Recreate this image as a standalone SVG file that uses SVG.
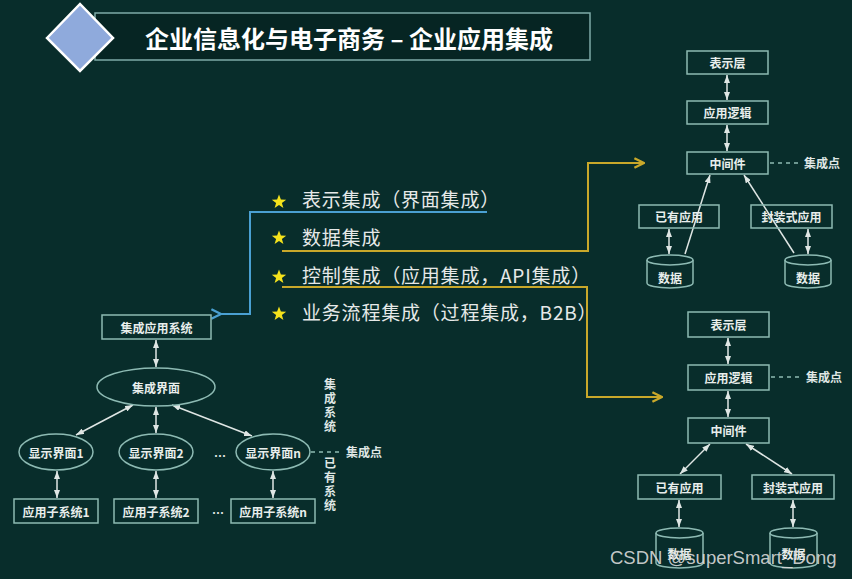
<svg xmlns="http://www.w3.org/2000/svg" width="852" height="579" viewBox="0 0 852 579">
<defs>
<marker id="ah" viewBox="0 0 8 6" refX="8" refY="3" markerWidth="8" markerHeight="6" markerUnits="userSpaceOnUse" orient="auto-start-reverse">
<path d="M0,0 L8,3 L0,6 z" fill="#dfe6e4"/>
</marker>
<marker id="oa" viewBox="0 0 10 10" refX="9" refY="5" markerWidth="12" markerHeight="12" markerUnits="userSpaceOnUse" orient="auto">
<path d="M1,1 L9,5 L1,9" fill="none" stroke="#c9a82a" stroke-width="2"/>
</marker>
<marker id="ba" viewBox="0 0 10 10" refX="1" refY="5" markerWidth="12" markerHeight="12" markerUnits="userSpaceOnUse" orient="auto">
<path d="M9,1 L1,5 L9,9" fill="none" stroke="#4aa0d2" stroke-width="2"/>
</marker>
<path id="star" d="M0,-7.5 L1.9,-2.4 L7.2,-2.3 L2.9,0.9 L4.4,6.1 L0,3 L-4.4,6.1 L-2.9,0.9 L-7.2,-2.3 L-1.9,-2.4 z" fill="#f4e21c"/>
</defs>
<style>
.bx{fill:none;stroke:#8dbab3;stroke-width:1.5}
.cy{fill:#082d2b;stroke:#8dbab3;stroke-width:1.5}
.t{font-family:"Noto Sans CJK SC","Noto Sans",sans-serif;font-weight:bold;font-size:12px;fill:#e8eeec;text-anchor:middle;dominant-baseline:central}
.bl{font-family:"Noto Sans CJK SC","Noto Sans",sans-serif;font-size:19px;letter-spacing:0.8px;fill:#e6e9e8}
.ar{stroke:#dfe6e4;stroke-width:1.5;fill:none}
.dash{stroke:#8dbab3;stroke-width:1.3;stroke-dasharray:4,4;fill:none}
.lb{font-family:"Noto Sans CJK SC","Noto Sans",sans-serif;font-weight:bold;font-size:12px;fill:#dfe6e4}
.vt{font-family:"Noto Sans CJK SC","Noto Sans",sans-serif;font-weight:bold;font-size:12px;fill:#dfe6e4;writing-mode:vertical-rl;letter-spacing:2px}
</style>
<rect width="852" height="579" fill="#082d2b"/>

<g id="title">
<rect x="95" y="13" width="495" height="47" fill="#062523" stroke="#7eaaa8" stroke-width="1.5"/>
<polygon points="47,38 80,4 113,38 80,71" fill="#8faadc" stroke="#ffffff" stroke-width="2.5"/>
<text x="145" y="48" font-family="'Noto Sans CJK SC','Noto Sans',sans-serif" font-weight="bold" font-size="24" fill="#ffffff">企业信息化与电子商务 – 企业应用集成</text>
</g>

<g id="bullets">
<use href="#star" x="279" y="202"/>
<text class="bl" x="302" y="207">表示集成（界面集成）</text>
<use href="#star" x="279" y="238"/>
<text class="bl" x="302" y="245">数据集成</text>
<use href="#star" x="279" y="277"/>
<text class="bl" x="302" y="283">控制集成（应用集成，API集成）</text>
<use href="#star" x="279" y="314"/>
<text class="bl" x="302" y="320">业务流程集成（过程集成，B2B）</text>
</g>

<g id="connectors">
<polyline points="487,212 250,212 250,314 221,314" fill="none" stroke="#4aa0d2" stroke-width="2" marker-end="url(#ba)"/>
<polyline points="282,251 588,251 588,163 644,163" fill="none" stroke="#c9a82a" stroke-width="2" marker-end="url(#oa)"/>
<polyline points="282,287 587,287 587,397 662,397" fill="none" stroke="#c9a82a" stroke-width="2" marker-end="url(#oa)"/>
<!-- left diagram -->
<line class="ar" x1="156" y1="340" x2="156" y2="367" marker-start="url(#ah)" marker-end="url(#ah)"/>
<line class="ar" x1="133" y1="405" x2="76" y2="435" marker-start="url(#ah)" marker-end="url(#ah)"/>
<line class="ar" x1="156" y1="407" x2="156" y2="433" marker-start="url(#ah)" marker-end="url(#ah)"/>
<line class="ar" x1="172" y1="405" x2="252" y2="436" marker-start="url(#ah)" marker-end="url(#ah)"/>
<line class="ar" x1="57" y1="471" x2="57" y2="498" marker-start="url(#ah)" marker-end="url(#ah)"/>
<line class="ar" x1="156" y1="471" x2="156" y2="498" marker-start="url(#ah)" marker-end="url(#ah)"/>
<line class="ar" x1="273" y1="471" x2="273" y2="498" marker-start="url(#ah)" marker-end="url(#ah)"/>
<line class="dash" x1="311" y1="452" x2="342" y2="452"/>
<!-- top right diagram -->
<line class="ar" x1="727" y1="75" x2="727" y2="100" marker-start="url(#ah)" marker-end="url(#ah)"/>
<line class="ar" x1="727" y1="125" x2="727" y2="151" marker-start="url(#ah)" marker-end="url(#ah)"/>
<line class="ar" x1="685" y1="254" x2="710" y2="175" marker-end="url(#ah)"/>
<line class="ar" x1="794" y1="253" x2="744" y2="175" marker-end="url(#ah)"/>
<line class="ar" x1="669" y1="229" x2="669" y2="254" marker-start="url(#ah)" marker-end="url(#ah)"/>
<line class="ar" x1="808" y1="229" x2="808" y2="254" marker-start="url(#ah)" marker-end="url(#ah)"/>
<line class="dash" x1="770" y1="163" x2="800" y2="163"/>
<!-- bottom right diagram -->
<line class="ar" x1="728" y1="338" x2="728" y2="364" marker-start="url(#ah)" marker-end="url(#ah)"/>
<line class="ar" x1="728" y1="391" x2="728" y2="417" marker-start="url(#ah)" marker-end="url(#ah)"/>
<line class="ar" x1="710" y1="444" x2="680" y2="474" marker-start="url(#ah)" marker-end="url(#ah)"/>
<line class="ar" x1="746" y1="444" x2="792" y2="474" marker-start="url(#ah)" marker-end="url(#ah)"/>
<line class="ar" x1="679" y1="500" x2="679" y2="527" marker-start="url(#ah)" marker-end="url(#ah)"/>
<line class="ar" x1="793" y1="500" x2="793" y2="527" marker-start="url(#ah)" marker-end="url(#ah)"/>
<line class="dash" x1="771" y1="377" x2="802" y2="377"/>
</g>

<!-- left diagram nodes -->
<g id="jcyyxt"><rect class="bx" x="102" y="315" width="109" height="24"/><text class="t" x="156.5" y="327">集成应用系统</text></g>
<g id="jcjm"><ellipse class="bx" cx="156" cy="387" rx="59" ry="19"/><text class="t" x="156" y="387">集成界面</text></g>
<g id="xsjm1"><ellipse class="bx" cx="56" cy="452" rx="37" ry="18"/><text class="t" x="56" y="452">显示界面1</text></g>
<g id="xsjm2"><ellipse class="bx" cx="156" cy="452" rx="37" ry="18"/><text class="t" x="156" y="452">显示界面2</text></g>
<g id="xsjmn"><ellipse class="bx" cx="273" cy="452" rx="37" ry="18"/><text class="t" x="273" y="452">显示界面n</text></g>
<g id="yyzxt1"><rect class="bx" x="14" y="499" width="84" height="24"/><text class="t" x="56" y="511">应用子系统1</text></g>
<g id="yyzxt2"><rect class="bx" x="114" y="499" width="84" height="24"/><text class="t" x="156" y="511">应用子系统2</text></g>
<g id="yyzxtn"><rect class="bx" x="231" y="499" width="84" height="24"/><text class="t" x="273" y="511">应用子系统n</text></g>
<g id="left-labels">
<text class="t" x="220" y="455">…</text>
<text class="t" x="218" y="512">…</text>
<text class="lb" x="346" y="456.5">集成点</text>
<text class="vt" x="330" y="378">集成系统</text>
<text class="vt" x="330" y="457">已有系统</text>
</g>

<!-- top right diagram nodes -->
<g id="r1-bsc"><rect class="bx" x="687" y="51" width="81" height="23"/><text class="t" x="727.5" y="62.5">表示层</text></g>
<g id="r1-yyljs"><rect class="bx" x="687" y="101" width="81" height="23"/><text class="t" x="727.5" y="112.5">应用逻辑</text></g>
<g id="r1-zjj"><rect class="bx" x="687" y="152" width="81" height="22"/><text class="t" x="727.5" y="163">中间件</text></g>
<g id="r1-yyyy"><rect class="bx" x="639" y="205" width="80" height="23"/><text class="t" x="679" y="216.5">已有应用</text></g>
<g id="r1-fzsyy"><rect class="bx" x="751" y="205" width="81" height="23"/><text class="t" x="791.5" y="216.5">封装式应用</text></g>
<g id="r1-sj1"><path class="cy" d="M647,260 A23,5 0 0 1 693,260 V283 A23,5 0 0 1 647,283 Z"/><path class="bx" d="M647,260 A23,5 0 0 0 693,260"/><text class="t" x="670" y="277">数据</text></g>
<g id="r1-sj2"><path class="cy" d="M785,260 A23,5 0 0 1 831,260 V283 A23,5 0 0 1 785,283 Z"/><path class="bx" d="M785,260 A23,5 0 0 0 831,260"/><text class="t" x="808" y="277">数据</text></g>
<text class="lb" x="804" y="167.5">集成点</text>

<!-- bottom right diagram nodes -->
<g id="r2-bsc"><rect class="bx" x="688" y="312" width="81" height="25"/><text class="t" x="728.5" y="324.5">表示层</text></g>
<g id="r2-yylj"><rect class="bx" x="688" y="365" width="81" height="25"/><text class="t" x="728.5" y="377.5">应用逻辑</text></g>
<g id="r2-zjj"><rect class="bx" x="688" y="418" width="81" height="25"/><text class="t" x="728.5" y="430.5">中间件</text></g>
<g id="r2-yyyy"><rect class="bx" x="638" y="475" width="83" height="24"/><text class="t" x="679.5" y="487">已有应用</text></g>
<g id="r2-fzsyy"><rect class="bx" x="752" y="475" width="82" height="24"/><text class="t" x="793" y="487">封装式应用</text></g>
<g id="r2-sj1"><path class="cy" d="M656,533 A23.5,5 0 0 1 703,533 V563 A23.5,5 0 0 1 656,563 Z"/><path class="bx" d="M656,533 A23.5,5 0 0 0 703,533"/><text class="t" x="679.5" y="553">数据</text></g>
<g id="r2-sj2"><path class="cy" d="M770,533 A23.5,5 0 0 1 817,533 V563 A23.5,5 0 0 1 770,563 Z"/><path class="bx" d="M770,533 A23.5,5 0 0 0 817,533"/><text class="t" x="793.5" y="553">数据</text></g>
<text class="lb" x="806" y="381.5">集成点</text>

<text x="610" y="564" font-family="'Liberation Sans',Arial,sans-serif" font-size="18.5" fill="#dcdcdc" fill-opacity="0.9">CSDN @superSmart_Dong</text>
</svg>
